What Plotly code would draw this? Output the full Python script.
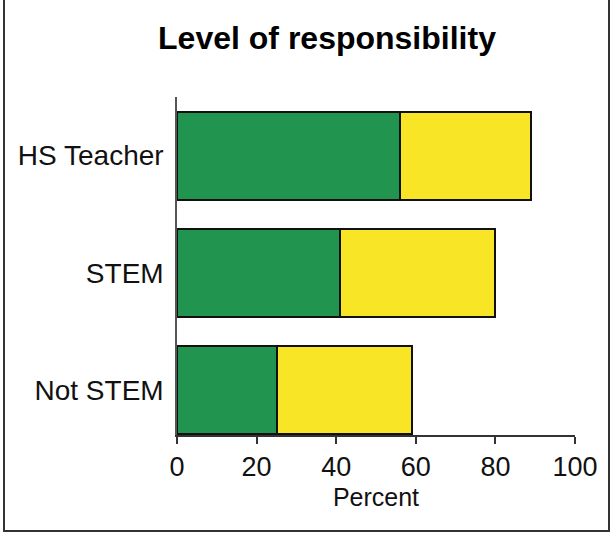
import plotly.graph_objects as go

# Groups (bottom to top on the chart) and the two stacked shares, in percent
groups = ["Not STEM", "STEM", "HS Teacher"]
green_part = [25, 41, 56]
yellow_part = [34, 39, 33]

x_ticks = [0, 20, 40, 60, 80, 100]

fig = go.Figure()
fig.add_trace(go.Bar(
    y=groups, x=green_part, orientation="h",
    marker=dict(color="#21944f", line=dict(color="#111111", width=2)),
    showlegend=False,
))
fig.add_trace(go.Bar(
    y=groups, x=yellow_part, orientation="h",
    marker=dict(color="#f8e526", line=dict(color="#111111", width=2)),
    showlegend=False,
))

# plot area in pixels: left 177, right 575, top 97, bottom 435
L, R, T, B = 177, 575, 97, 435
W, H = 612, 538
pw, ph = R - L, B - T

fig.update_layout(
    width=W, height=H,
    barmode="stack",
    bargap=0.25,
    paper_bgcolor="white",
    plot_bgcolor="white",
    margin=dict(l=L, r=W - R, t=T, b=H - B, pad=0),
    font=dict(family="Liberation Sans, Arial, sans-serif", color="#111111"),
    title=dict(
        text="<b>Level of responsibility</b>",
        font=dict(size=32, color="#000000"),
        x=327 / W, xanchor="center",
        y=1 - 38 / H, yanchor="middle",
    ),
    xaxis=dict(
        range=[0, 100],
        tickvals=x_ticks,
        ticks="outside", ticklen=7, tickwidth=1.5, tickcolor="#333333",
        showline=True, linecolor="#333333", linewidth=1.5,
        showgrid=False, zeroline=False,
        tickfont=dict(size=27),
        title=dict(text="Percent", font=dict(size=25), standoff=7),
    ),
    yaxis=dict(
        range=[-0.38, 2.5],
        showline=True, linecolor="#555555", linewidth=1.5,
        showgrid=False, zeroline=False,
        ticks="", ticklabelstandoff=6,
        tickfont=dict(size=28),
    ),
    shapes=[dict(
        type="rect", xref="paper", yref="paper",
        x0=(4 - L) / pw, x1=(609 - L) / pw,
        y0=(B - 531) / ph, y1=(B + 10) / ph,
        line=dict(color="#333333", width=2),
        fillcolor="rgba(0,0,0,0)",
        layer="below",
    )],
)

fig.write_html("out.html",
               config={"displayModeBar": False},
               post_script="document.body.style.margin='0';document.body.style.overflow='hidden';")
